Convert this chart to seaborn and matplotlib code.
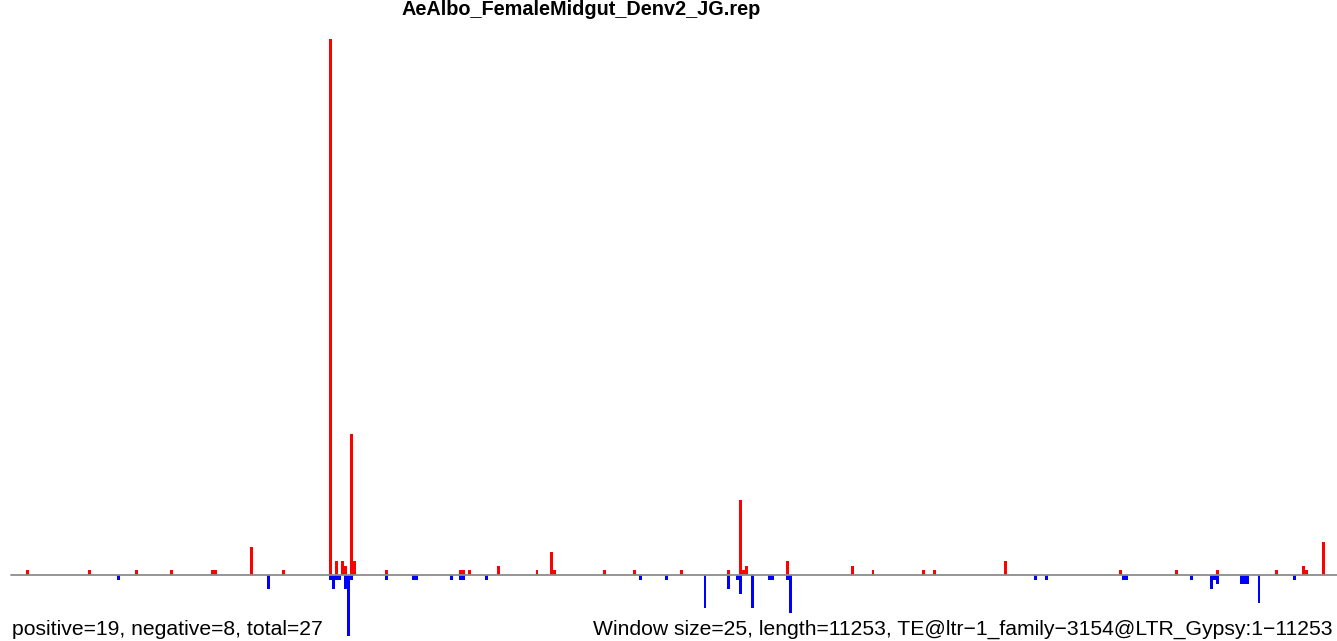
import numpy as np
import pandas as pd
import matplotlib
matplotlib.use('Agg')
import matplotlib.pyplot as plt
import seaborn as sns

# ── data: window index (25 bp windows) and signal per strand ──
title = 'AeAlbo_FemaleMidgut_Denv2_JG.rep'
window = 25
length = 11253

red_win = [5, 26, 42, 54, 68, 69, 81, 92, 108, 110, 112, 113, 115, 116, 127,
           152, 153, 155, 165, 178, 183, 184, 201, 211, 227, 243, 247, 248, 249,
           263, 285, 292, 309, 313, 337, 376, 395, 409, 429, 438, 439, 445]
red_val = [1, 1, 1, 1, 1, 1, 6, 1, 114, 3, 3, 2, 30, 3, 1,
           1, 1, 1, 2, 1, 5, 1, 1, 1, 1, 1, 16, 1, 2,
           3, 2, 1, 1, 1, 3, 1, 1, 1, 1, 2, 1, 7]

blue_win = [36, 87, 108, 109, 110, 111, 113, 114, 115, 127, 136, 137, 149,
            152, 153, 161, 213, 222, 235, 243, 246, 247, 251, 257, 258, 263,
            264, 347, 351, 377, 378, 400, 407, 408, 409, 417, 418, 419, 423, 435]
blue_val = [1, 3, 1, 3, 1, 1, 3, 13, 1, 1, 1, 1, 1,
            1, 1, 1, 1, 1, 7, 3, 1, 4, 7, 1, 1, 1,
            8, 1, 1, 1, 1, 1, 3, 1, 2, 2, 2, 2, 6, 1]

left_note = 'positive=19, negative=8, total=27'
right_note = ('Window size=25, length=11253, '
              'TE@ltr\u22121_family\u22123154@LTR_Gypsy:1\u221211253')

pos = pd.DataFrame({'x': np.array(red_win) * window + window / 2,
                    'v': np.array(red_val, dtype=float)})
neg = pd.DataFrame({'x': np.array(blue_win) * window + window / 2,
                    'v': -np.array(blue_val, dtype=float)})

# ── plot ──
sns.set_theme(style='white')
plt.rcParams['font.family'] = ['Liberation Sans', 'DejaVu Sans']

fig = plt.figure(figsize=(13.37, 6.41), dpi=100)
ax = fig.add_axes([0, 0, 1, 1])

n_win = length // window + 1
sns.histplot(data=pos, x='x', weights='v', binwidth=window,
             binrange=(0, n_win * window), color='#FF0000',
             alpha=1, linewidth=0, ax=ax)
sns.histplot(data=neg, x='x', weights='v', binwidth=window,
             binrange=(0, n_win * window), color='#0000FF',
             alpha=1, linewidth=0, ax=ax)

ax.plot([0, length + window], [0, 0], color='#8c8c8c', lw=1.3, zorder=3)

ax.set_xlim(-93.3, 11249)
ax.set_ylim(-14.04, 122.34)
ax.set_axis_off()

fig.text(581 / 1337, 1 - 15 / 641, title, ha='center', va='baseline',
         fontsize=14.3, fontweight='bold', color='black')
fig.text(12 / 1337, 1 - 635 / 641, left_note, ha='left', va='baseline',
         fontsize=15.2, color='black')
fig.text(593 / 1337, 1 - 635 / 641, right_note, ha='left', va='baseline',
         fontsize=15.2, color='black')

plt.savefig('out.png', dpi=100)
plt.close()
